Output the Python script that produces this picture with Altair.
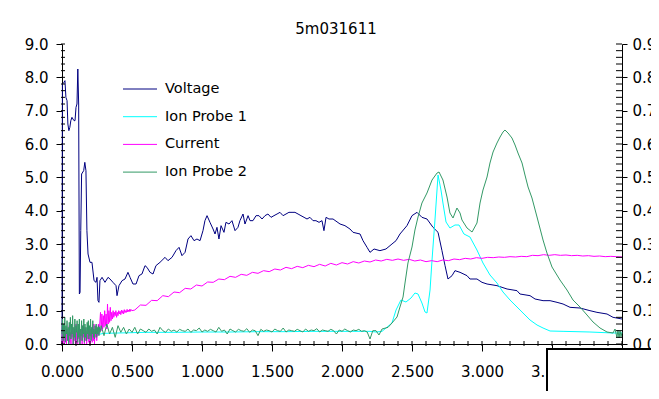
import altair as alt
import pandas as pd

TITLE = "5m031611"
series_names = ["Voltage", "Ion Probe 1", "Current", "Ion Probe 2"]
series_colors = ["#000080", "#00FFFF", "#FF00FF", "#339966"]

x_tick_values = [0.0, 0.5, 1.0, 1.5, 2.0, 2.5, 3.0, 3.5, 4.0]
left_tick_values = [0, 1, 2, 3, 4, 5, 6, 7, 8, 9]
right_tick_values = [0.0, 0.1, 0.2, 0.3, 0.4, 0.5, 0.6, 0.7, 0.8, 0.9]

# ---- Voltage (left axis) ----
volt_x = [0.000,0.003,0.014,0.021,0.028,0.036,0.042,0.049,0.056,0.063,
          0.071,0.078,0.086,0.093,0.100,0.107,0.113,0.119,0.124,0.129,
          0.134,0.140,0.155,0.163,0.171,0.178,0.186,0.200,0.214,0.229,
          0.243,0.250,0.257,0.264,0.271,0.286,0.307,0.329,0.343,0.364,
          0.386,0.393,0.407,0.429,0.450,0.471,0.486,0.507,0.529,0.550,
          0.571,0.593,0.607,0.629,0.650,0.671,0.700,0.736,0.757,0.786,
          0.814,0.836,0.857,0.879,0.900,0.921,0.943,0.964,0.986,1.007,
          1.021,1.036,1.057,1.079,1.093,1.107,1.121,1.136,1.157,1.171,
          1.193,1.214,1.236,1.257,1.271,1.293,1.307,1.329,1.343,1.364,
          1.386,1.407,1.429,1.450,1.471,1.493,1.514,1.536,1.557,1.579,
          1.600,1.621,1.643,1.664,1.686,1.707,1.729,1.750,1.771,1.793,
          1.814,1.836,1.857,1.871,1.886,1.907,1.936,1.986,2.021,2.057,
          2.079,2.129,2.150,2.179,2.200,2.229,2.271,2.314,2.357,2.386,
          2.414,2.464,2.500,2.536,2.571,2.607,2.650,2.686,2.714,2.736,
          2.757,2.786,2.807,2.843,2.893,2.914,2.964,3.000,3.036,3.107,
          3.143,3.179,3.250,3.271,3.343,3.379,3.436,3.486,3.536,3.579,
          3.629,3.700,3.771,3.821,3.893,3.936,4.000]
volt_y = [0.0,7.8,7.85,7.9,7.4,7.3,6.6,6.4,6.5,6.7,
          6.8,6.75,6.7,6.7,7.1,7.2,8.25,7.2,1.5,1.55,
          3.4,5.1,5.2,5.45,5.2,3.4,2.7,2.45,2.45,1.9,
          1.85,2.0,1.3,1.25,1.9,2.0,1.85,2.0,1.95,1.85,
          1.75,1.45,1.75,1.9,1.95,2.15,2.0,1.8,1.8,2.05,
          2.1,2.35,2.3,2.15,2.1,2.35,2.45,2.6,2.5,2.6,
          2.8,2.9,2.65,2.75,3.15,3.25,3.1,3.15,3.1,3.4,
          3.7,3.85,3.65,3.45,3.3,3.5,3.15,3.55,3.35,3.65,
          3.6,3.7,3.4,3.5,3.7,3.9,3.6,3.85,3.7,3.7,
          3.85,3.85,3.75,3.85,3.9,3.8,3.85,3.9,3.95,3.85,
          3.9,3.95,3.95,3.95,3.9,3.85,3.8,3.75,3.8,3.7,
          3.7,3.65,3.7,3.4,3.8,3.75,3.75,3.6,3.55,3.45,
          3.35,3.3,3.1,2.9,2.75,2.85,2.8,2.85,3.0,3.1,
          3.3,3.55,3.85,3.95,3.8,3.75,3.5,3.35,2.8,2.35,
          1.95,2.05,2.2,2.15,2.05,1.95,1.95,1.85,1.8,1.75,
          1.7,1.65,1.6,1.5,1.45,1.35,1.3,1.3,1.25,1.2,
          1.1,1.08,1.0,0.95,0.9,0.8,0.75]

# ---- Ion Probe 1 (right axis) ----
ion1_x = [0.000,0.05,0.10,0.15,0.20,0.25,0.30,
          0.40,0.60,0.80,1.00,1.20,1.40,1.60,1.80,2.00,2.20,
          2.243,2.286,2.357,2.386,2.421,2.457,2.493,2.521,2.543,2.571,
          2.593,2.607,2.629,2.643,2.664,2.686,2.707,2.721,2.743,2.771,
          2.807,2.836,2.871,2.914,2.964,3.007,3.057,3.107,3.150,3.200,
          3.250,3.293,3.343,3.393,3.436,3.486,3.579,3.771,3.936,4.000]
ion1_y = [0.030,0.025,0.030,0.022,0.030,0.028,0.032,
          0.033,0.035,0.035,0.036,0.036,0.037,0.037,0.038,0.038,0.038,
          0.036,0.038,0.063,0.102,0.132,0.126,0.138,0.153,0.150,0.123,
          0.096,0.093,0.162,0.252,0.372,0.507,0.462,0.423,0.366,0.348,
          0.357,0.357,0.330,0.321,0.282,0.243,0.207,0.183,0.156,0.132,
          0.111,0.093,0.072,0.057,0.048,0.039,0.038,0.036,0.033,0.033]

# ---- Current (right axis) ----
cur_early_start, cur_early_step = 0.0, 0.004
cur_early_y = [0.000,0.040,0.005,0.030,0.000,0.050,0.010,0.035,0.000,0.045,
               0.015,0.030,0.000,0.055,0.005,0.035,0.000,0.040,0.020,0.050,
               0.000,0.030,0.010,0.045,0.000,0.060,0.005,0.035,0.000,0.040,
               0.015,0.050,0.000,0.030,0.010,0.045,0.000,0.055,0.020,0.035,
               0.000,0.050,0.010,0.040,0.000,0.030,0.015,0.055,0.005,0.040,
               0.000,0.045,0.020,0.035,0.005,0.050,0.010,0.060,0.000,0.040,
               0.020,0.055,0.010,0.045,0.025,0.060,0.030,0.050]
cur_mid_start, cur_mid_step = 0.275, 0.005
cur_mid_y = [0.095,0.040,0.090,0.045,0.085,0.050,0.100,0.055,0.090,0.045,
             0.120,0.060,0.100,0.065,0.110,0.070,0.095,0.075,0.100,0.080,
             0.095,0.085,0.100,0.080,0.095,0.085,0.100,0.090,0.098,0.088,
             0.102,0.092,0.100,0.090,0.103,0.094,0.100,0.095,0.104,0.096,
             0.102,0.097,0.105,0.098,0.103,0.100]
cur_late_start, cur_late_step = 0.52, 0.04
cur_late_y = [0.102,0.117,0.116,0.131,0.130,0.145,0.142,0.156,0.154,0.167,
              0.165,0.177,0.174,0.186,0.185,0.195,0.193,0.203,0.200,0.209,
              0.206,0.215,0.212,0.220,0.217,0.225,0.222,0.230,0.226,0.233,
              0.229,0.236,0.232,0.239,0.234,0.242,0.237,0.244,0.240,0.247,
              0.243,0.249,0.246,0.252,0.249,0.254,0.251,0.255,0.251,0.254,
              0.249,0.252,0.247,0.250,0.247,0.252,0.250,0.255,0.253,0.257,
              0.255,0.259,0.257,0.260,0.259,0.261,0.260,0.262,0.261,0.263,
              0.262,0.266,0.265,0.268,0.266,0.268,0.266,0.267,0.265,0.266,
              0.264,0.265,0.263,0.264,0.262,0.263,0.262,0.261]

# ---- Ion Probe 2 (right axis) ----
ion2_early_start, ion2_early_step = 0.0, 0.004
ion2_early_y = [0.030,0.075,0.010,0.060,0.020,0.080,0.005,0.055,0.030,0.070,
                0.010,0.050,0.000,0.065,0.025,0.080,0.015,0.060,0.030,0.085,
                0.000,0.050,0.020,0.075,0.010,0.055,0.035,0.070,0.005,0.060,
                0.020,0.075,0.000,0.045,0.025,0.070,0.010,0.055,0.030,0.075,
                0.005,0.060,0.020,0.050,0.010,0.065,0.030,0.070,0.015,0.055,
                0.025,0.075,0.010,0.050,0.030,0.070,0.020,0.045,0.015,0.055,
                0.030,0.060,0.020,0.050,0.030,0.055,0.025,0.050,0.035,0.045]
ion2_mid_start, ion2_mid_step = 0.28, 0.02
ion2_mid_y = [0.055,0.025,0.060,0.030,0.050,0.020,0.055,0.035,0.050,0.030,
              0.045,0.035,0.050,0.030,0.045,0.040,0.035,0.045,0.038,0.042,
              0.030,0.050,0.040,0.035,0.045,0.038,0.042,0.036,0.044,0.040,
              0.038,0.045,0.035,0.042,0.040,0.048,0.036,0.042,0.038,0.044,
              0.040,0.036,0.050,0.038,0.042,0.030,0.045,0.040,0.036,0.044,
              0.040,0.038,0.046,0.035,0.042,0.040,0.025,0.044,0.038,0.042,
              0.040,0.036,0.045,0.040,0.038,0.048,0.036,0.042,0.040,0.038,
              0.044,0.040,0.036,0.045,0.038,0.042,0.040,0.046,0.036,0.042,
              0.040,0.038,0.044,0.040,0.030,0.042,0.038,0.045,0.040,0.036,
              0.042,0.040,0.044,0.038,0.040,0.036,0.015,0.040]
ion2_peak_x = [2.243,2.264,2.286,2.329,2.357,2.393,2.414,2.436,2.450,2.471,
               2.500,2.521,2.543,2.571,2.607,2.643,2.679,2.693,2.721,2.750,
               2.771,2.793,2.821,2.843,2.857,2.893,2.929,2.964,2.986,3.007,
               3.036,3.057,3.079,3.107,3.129,3.150,3.164,3.186,3.214,3.236,
               3.257,3.286,3.307,3.329,3.357,3.393,3.436,3.464,3.500,3.557,
               3.607,3.650,3.700,3.750,3.793,3.843,3.893,3.936,3.950,3.964,
               3.971,3.979,3.986,3.993,4.000]
ion2_peak_y = [0.040,0.027,0.045,0.050,0.063,0.081,0.111,0.141,0.183,0.243,
               0.291,0.342,0.381,0.423,0.453,0.492,0.513,0.516,0.492,0.441,
               0.393,0.378,0.408,0.393,0.372,0.348,0.336,0.363,0.423,0.462,
               0.501,0.543,0.576,0.603,0.621,0.636,0.642,0.633,0.618,0.597,
               0.573,0.543,0.507,0.471,0.438,0.381,0.312,0.273,0.231,0.192,
               0.162,0.132,0.111,0.087,0.066,0.048,0.036,0.033,0.045,0.020,
               0.042,0.018,0.040,0.022,0.035]


def grid(start, step, values):
    return [round(start + step * i, 4) for i in range(len(values))]


cur_x = (grid(cur_early_start, cur_early_step, cur_early_y)
         + grid(cur_mid_start, cur_mid_step, cur_mid_y)
         + grid(cur_late_start, cur_late_step, cur_late_y))
cur_y = cur_early_y + cur_mid_y + cur_late_y
ion2_x = (grid(ion2_early_start, ion2_early_step, ion2_early_y)
          + grid(ion2_mid_start, ion2_mid_step, ion2_mid_y) + ion2_peak_x)
ion2_y = ion2_early_y + ion2_mid_y + ion2_peak_y

df_volt = pd.DataFrame({"x": volt_x[:len(volt_y)], "v": volt_y[:len(volt_x)]})
df_ion1 = pd.DataFrame({"x": ion1_x[:len(ion1_y)], "r": ion1_y[:len(ion1_x)]})
df_cur = pd.DataFrame({"x": cur_x, "r": cur_y})
df_ion2 = pd.DataFrame({"x": ion2_x, "r": ion2_y})

# minor tick positions (axis decoration)
x_minor = [round(0.1 * i, 1) for i in range(41)]
left_minor = [round(0.2 * i, 1) for i in range(46)]
right_minor = [round(0.02 * i, 2) for i in range(46)]

FONT = "DejaVu Sans"
W, H = 560, 300

xscale = alt.Scale(domain=[0, 4], nice=False, zero=False)
lscale = alt.Scale(domain=[0, 9], nice=False, zero=False)
rscale = alt.Scale(domain=[0, 0.9], nice=False, zero=False)

axis_style = dict(title=None, grid=False, domain=True, ticks=True, labels=True,
                  domainColor="black", domainWidth=1, tickColor="black", tickWidth=1,
                  labelColor="black", labelFont=FONT, labelFontSize=15,
                  labelFlush=False, labelOverlap=False)

x_axis = alt.Axis(values=x_tick_values, format=".3f", tickSize=7, labelPadding=13,
                  orient="bottom", **axis_style)
left_axis = alt.Axis(values=left_tick_values, format=".1f", tickSize=6, labelPadding=8,
                     orient="left", **axis_style)
right_axis = alt.Axis(values=right_tick_values, format=".1f", tickSize=5, labelPadding=5,
                      orient="right", **axis_style)


def X(field="x"):
    # every layer carries the same x axis so that the shared axis is kept
    return alt.X(f"{field}:Q", scale=xscale, axis=x_axis)


volt_line = alt.Chart(df_volt).mark_line(color=series_colors[0], strokeWidth=1).encode(
    x=X(), y=alt.Y("v:Q", scale=lscale, axis=left_axis))
ion1_line = alt.Chart(df_ion1).mark_line(color=series_colors[1], strokeWidth=1).encode(
    x=X(), y=alt.Y("r:Q", scale=rscale, axis=right_axis))
cur_line = alt.Chart(df_cur).mark_line(color=series_colors[2], strokeWidth=1).encode(
    x=X(), y=alt.Y("r:Q", scale=rscale, axis=None))
ion2_line = alt.Chart(df_ion2).mark_line(color=series_colors[3], strokeWidth=1).encode(
    x=X(), y=alt.Y("r:Q", scale=rscale, axis=None))

left_minor_ticks = alt.Chart(pd.DataFrame({"t": left_minor})).mark_rule(
    color="black", strokeWidth=1).encode(
    y=alt.Y("t:Q", scale=lscale, axis=None), x=alt.value(-1), x2=alt.value(3))
right_minor_ticks = alt.Chart(pd.DataFrame({"t": right_minor})).mark_rule(
    color="black", strokeWidth=1).encode(
    y=alt.Y("t:Q", scale=rscale, axis=None), x=alt.value(W - 6), x2=alt.value(W))
x_minor_ticks = alt.Chart(pd.DataFrame({"t": x_minor})).mark_rule(
    color="black", strokeWidth=1).encode(
    x=X("t"), y=alt.value(H - 3), y2=alt.value(H + 2))

# legend inside the plot
legend_df = pd.DataFrame({"name": series_names, "i": list(range(len(series_names)))})
color_scale = alt.Scale(domain=series_names, range=series_colors)
legend_base = alt.Chart(legend_df).transform_calculate(ly="45 + datum.i * 27.7")
legend_lines = legend_base.mark_rule(strokeWidth=1).encode(
    x=alt.value(61), x2=alt.value(95), y=alt.Y("ly:Q", scale=None),
    color=alt.Color("name:N", scale=color_scale, legend=None))
legend_text = legend_base.mark_text(align="left", baseline="middle", font=FONT,
                                    fontSize=14.5, color="black").encode(
    x=alt.value(103), y=alt.Y("ly:Q", scale=None), text="name:N")

# overlapping window edge at the bottom right
box = alt.Chart(pd.DataFrame({"k": [0]})).mark_rect(
    fill="white", stroke="black", strokeWidth=2).encode(
    x=alt.value(485), x2=alt.value(700), y=alt.value(305), y2=alt.value(420))

chart = alt.layer(
    volt_line, ion1_line, cur_line, ion2_line,
    left_minor_ticks, right_minor_ticks, x_minor_ticks,
    legend_lines, legend_text, box,
).resolve_scale(y="independent").properties(
    width=W, height=H,
    title=alt.TitleParams(TITLE, font=FONT, fontSize=15, fontWeight="normal",
                          color="black", anchor="middle", dx=-6, offset=0),
    autosize=alt.AutoSizeParams(type="none"),
    padding={"left": 54, "top": 36, "right": 29, "bottom": 47},
    background="white",
).configure_view(stroke=None)

chart.save("out.html", embed_options={"renderer": "svg", "actions": False})
